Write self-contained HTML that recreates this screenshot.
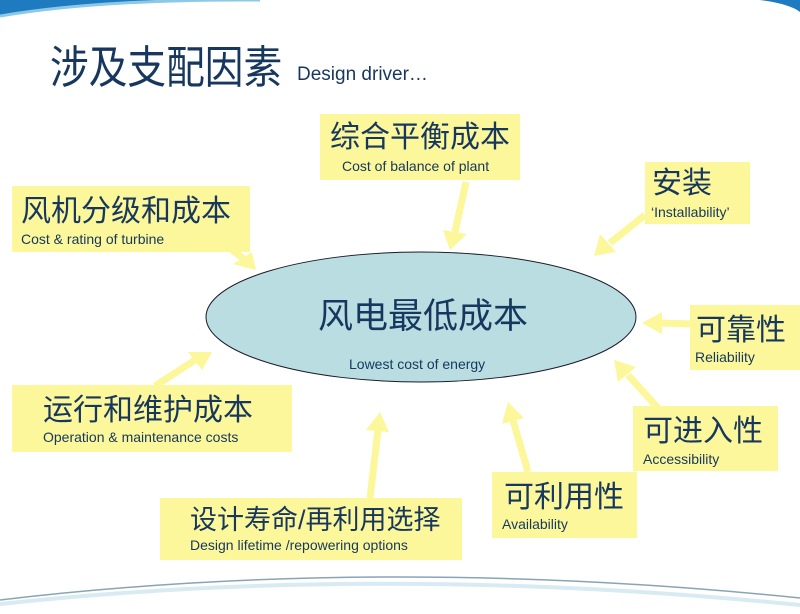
<!DOCTYPE html>
<html><head><meta charset="utf-8"><style>
body{margin:0;width:800px;height:614px;background:#fff;position:relative;overflow:hidden;font-family:"Liberation Sans","Noto Sans CJK SC",sans-serif;color:#17375e}
.b{position:absolute;background:#fbf79a;}
.b .c{position:absolute;font-size:30px;line-height:32px;white-space:nowrap;color:#17375e}
.b .e{position:absolute;font-size:14px;line-height:16px;white-space:nowrap;color:#17375e}
</style></head><body>
<svg width="800" height="614" style="position:absolute;left:0;top:0">
<path d="M0 16 Q100 0 260 0 L0 0Z" fill="#1f7bbf"/>
<path d="M0 16 Q100 -1 260 0" stroke="#8cc8e8" stroke-width="3" fill="none"/>
<path d="M760 0 Q790 4 800 12 L800 0Z" fill="#1f7bbf"/>
<path d="M0 600 Q380 555 800 598" stroke="#8aa4b4" stroke-width="1.5" fill="none"/>
<path d="M0 604 Q380 563 800 605" stroke="#d8eaf2" stroke-width="4" fill="none"/>
<g stroke="#fbf79a" stroke-width="7" fill="#fbf79a">
<line x1="466" y1="182" x2="455" y2="232"/><polygon points="443,230 467,234 450,250" stroke="none"/>
<line x1="645" y1="215" x2="610" y2="243"/><polygon points="600,234 616,252 594,256" stroke="none"/>
<line x1="692" y1="324" x2="660" y2="323"/><polygon points="662,312 662,334 642,323" stroke="none"/>
<line x1="658" y1="408" x2="628" y2="375"/><polygon points="618,382 636,367 614,360" stroke="none"/>
<line x1="528" y1="472" x2="513" y2="420"/><polygon points="502,424 524,418 508,402" stroke="none"/>
<line x1="370" y1="498" x2="378" y2="430"/><polygon points="366,430 389,432 380,412" stroke="none"/>
<line x1="155" y1="386" x2="195" y2="360"/><polygon points="188,352 202,370 212,352" stroke="none"/>
<line x1="232" y1="250" x2="248" y2="262"/><polygon points="233,264 252,252 256,270" stroke="none"/>
</g>
<ellipse cx="421" cy="317" rx="215" ry="65" fill="#b9dde0" stroke="#1a1a2a" stroke-width="1"/>
</svg>
<div style="position:absolute;left:50px;top:44px;font-size:45px;line-height:48px;color:#17375e;transform:scaleX(0.86);transform-origin:left top;white-space:nowrap">涉及支配因素</div>
<div style="position:absolute;left:297px;top:64px;font-size:19px;color:#17375e">Design driver…</div>
<div style="position:absolute;left:318px;top:298px;font-size:35px;line-height:38px;color:#17375e">风电最低成本</div>
<div style="position:absolute;left:349px;top:356px;font-size:14px;color:#17375e">Lowest cost of energy</div>

<div class="b" style="left:320px;top:114px;width:200px;height:66px"><div class="c" style="left:10px;top:8px">综合平衡成本</div><div class="e" style="left:22px;top:44px">Cost of balance of plant</div></div>
<div class="b" style="left:645px;top:162px;width:105px;height:62px"><div class="c" style="left:7px;top:6px">安装</div><div class="e" style="left:6px;top:42px">‘Installability’</div></div>
<div class="b" style="left:12px;top:186px;width:238px;height:66px"><div class="c" style="left:9px;top:10px">风机分级和成本</div><div class="e" style="left:9px;top:45px">Cost &amp; rating of turbine</div></div>
<div class="b" style="left:690px;top:305px;width:110px;height:65px"><div class="c" style="left:6px;top:10px">可靠性</div><div class="e" style="left:5px;top:44px">Reliability</div></div>
<div class="b" style="left:12px;top:385px;width:280px;height:67px"><div class="c" style="left:31px;top:10px">运行和维护成本</div><div class="e" style="left:31px;top:44px">Operation &amp; maintenance costs</div></div>
<div class="b" style="left:633px;top:406px;width:145px;height:65px"><div class="c" style="left:10px;top:10px">可进入性</div><div class="e" style="left:10px;top:45px">Accessibility</div></div>
<div class="b" style="left:492px;top:472px;width:145px;height:66px"><div class="c" style="left:12px;top:10px">可利用性</div><div class="e" style="left:10px;top:44px">Availability</div></div>
<div class="b" style="left:160px;top:498px;width:302px;height:62px"><div class="c" style="left:30px;top:6px;font-size:27px">设计寿命/再利用选择</div><div class="e" style="left:30px;top:39px">Design lifetime /repowering options</div></div>
</body></html>
